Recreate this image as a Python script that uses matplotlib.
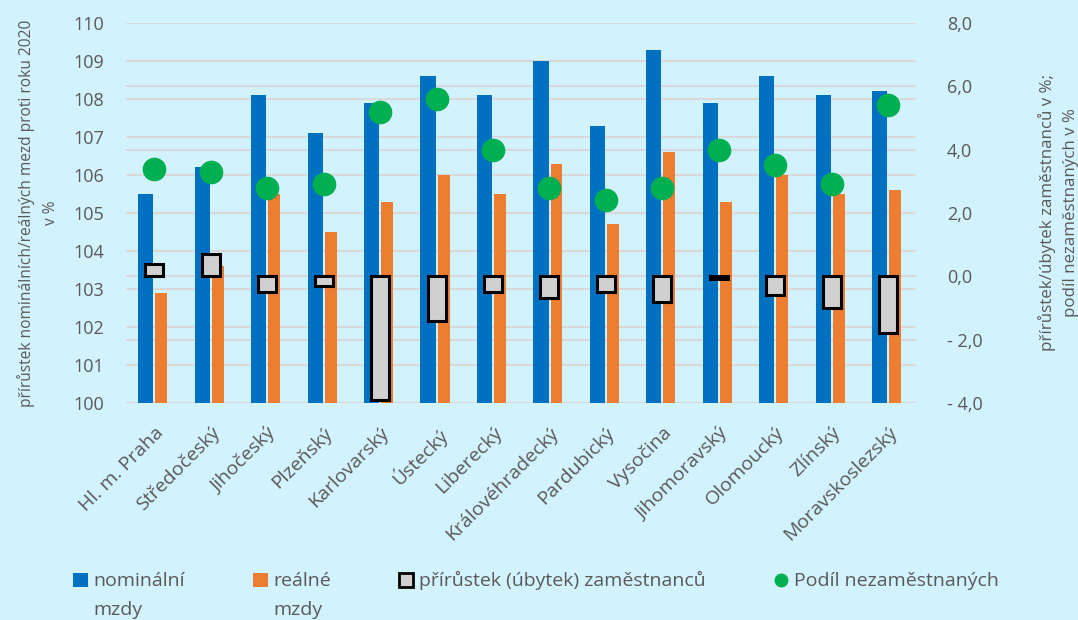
import numpy as np
import matplotlib
matplotlib.use("Agg")
import matplotlib.pyplot as plt
import matplotlib.transforms as mtrans
from matplotlib.patches import Patch
from matplotlib.lines import Line2D

plt.rcParams['font.family'] = ['Open Sans', 'DejaVu Sans']

kraje = ["Hl. m. Praha", "Středočeský", "Jihočeský", "Plzeňský", "Karlovarský",
         "Ústecký", "Liberecký", "Královéhradecký", "Pardubický", "Vysočina",
         "Jihomoravský", "Olomoucký", "Zlínský", "Moravskoslezský"]
nominalni = [105.5, 106.2, 108.1, 107.1, 107.9, 108.6, 108.1, 109.0, 107.3, 109.3,
             107.9, 108.6, 108.1, 108.2]
realne = [102.9, 103.6, 105.5, 104.5, 105.3, 106.0, 105.5, 106.3, 104.7, 106.6,
          105.3, 106.0, 105.5, 105.6]
zamestnanci = [0.4, 0.7, -0.5, -0.3, -3.9, -1.4, -0.5, -0.7, -0.5, -0.8,
               -0.1, -0.6, -1.0, -1.8]
nezam = [3.4, 3.3, 2.8, 2.9, 5.2, 5.6, 4.0, 2.8, 2.4, 2.8, 4.0, 3.5, 2.9, 5.4]

left_ticks = np.arange(100, 111, 1)
right_ticks = np.arange(-4, 9, 2)

bg = '#d2f2fd'
grey = '#595959'
blue = '#0070c0'
orange = '#ed7d31'
green = '#00b050'

fig = plt.figure(figsize=(10.78, 6.2), dpi=100, facecolor=bg)
ax = fig.add_axes([0.117, 0.35, 0.733, 0.613])
ax.set_facecolor(bg)
ax2 = ax.twinx()

x = np.arange(len(kraje))
ax.bar(x - 0.15, nominalni, width=0.27, color=blue, zorder=3)
ax.bar(x + 0.125, realne, width=0.21, color=orange, zorder=3)

ax.set_ylim(100, 110)
ax.set_xlim(-0.5, len(kraje) - 0.5)
ax2.set_ylim(-4, 8)

# gridlines of both axes behind the bars
for t in left_ticks:
    ax.axhline(t, color='#d9d9d9', lw=1.5, zorder=1)
for t in right_ticks:
    ax.axhline(100 + (t + 4) * 10 / 12, color='#d9d9d9', lw=1.5, zorder=1)

ax2.bar(x, zamestnanci, width=0.32, color='#d0d0d0', edgecolor='black', lw=2.2, zorder=3)
ax2.plot(x, nezam, 'o', color=green, markersize=16, zorder=4)

ax.set_yticks(left_ticks)
ax.set_yticklabels([str(t) for t in left_ticks])
ax2.set_yticks(right_ticks)
ax2.set_yticklabels([("- " if t < 0 else "") + f"{abs(t):.1f}".replace(".", ",") for t in right_ticks])

ax.set_xticks(x)
ax.set_xticklabels(kraje, rotation=45, ha='right', va='top', rotation_mode='anchor',
                   fontsize=14)
shift = mtrans.ScaledTranslation(10 / 100, 0, fig.dpi_scale_trans)
for lab in ax.get_xticklabels():
    lab.set_transform(lab.get_transform() + shift)

for a in (ax, ax2):
    for s in a.spines.values():
        s.set_visible(False)
    a.tick_params(length=0, labelcolor=grey)
ax.tick_params(axis='y', pad=16, labelsize=13)
ax2.tick_params(axis='y', pad=22, labelsize=13)
ax.tick_params(axis='x', pad=15)

ax.set_ylabel("přírůstek nominálních/reálných mezd proti roku 2020\nv %",
              fontsize=11.2, color=grey, labelpad=10, linespacing=1.7)
ax2.set_ylabel("přírůstek/úbytek zaměstnanců v %;\npodíl nezaměstnaných v %",
               fontsize=12.2, color=grey, labelpad=40, linespacing=1.6)

handles = [Patch(facecolor=blue), Patch(facecolor=orange),
           Patch(facecolor='#d0d0d0', edgecolor='black', lw=2),
           Line2D([], [], marker='o', ls='', color=green, markersize=9)]
labels = ["nominální", "reálné", "přírůstek (úbytek) zaměstnanců",
          "Podíl nezaměstnaných"]
leg = fig.legend(handles, labels, ncol=4, loc='center left', bbox_to_anchor=(0.068, 0.063),
                 frameon=False, fontsize=14, handlelength=0.75, handleheight=0.75,
                 handletextpad=0.28, columnspacing=3.5, labelcolor=grey,
                 borderaxespad=0, borderpad=0)

# second line of the wrapped legend labels
fig.canvas.draw()
inv = fig.transFigure.inverted()
for i in (0, 1):
    bb = leg.get_texts()[i].get_window_extent()
    x0, y0 = inv.transform((bb.x0, bb.y0 - 29))
    fig.text(x0, y0, "mzdy", fontsize=14, color=grey, ha='left', va='bottom')

fig.savefig("out.png", dpi=100, facecolor=bg)
